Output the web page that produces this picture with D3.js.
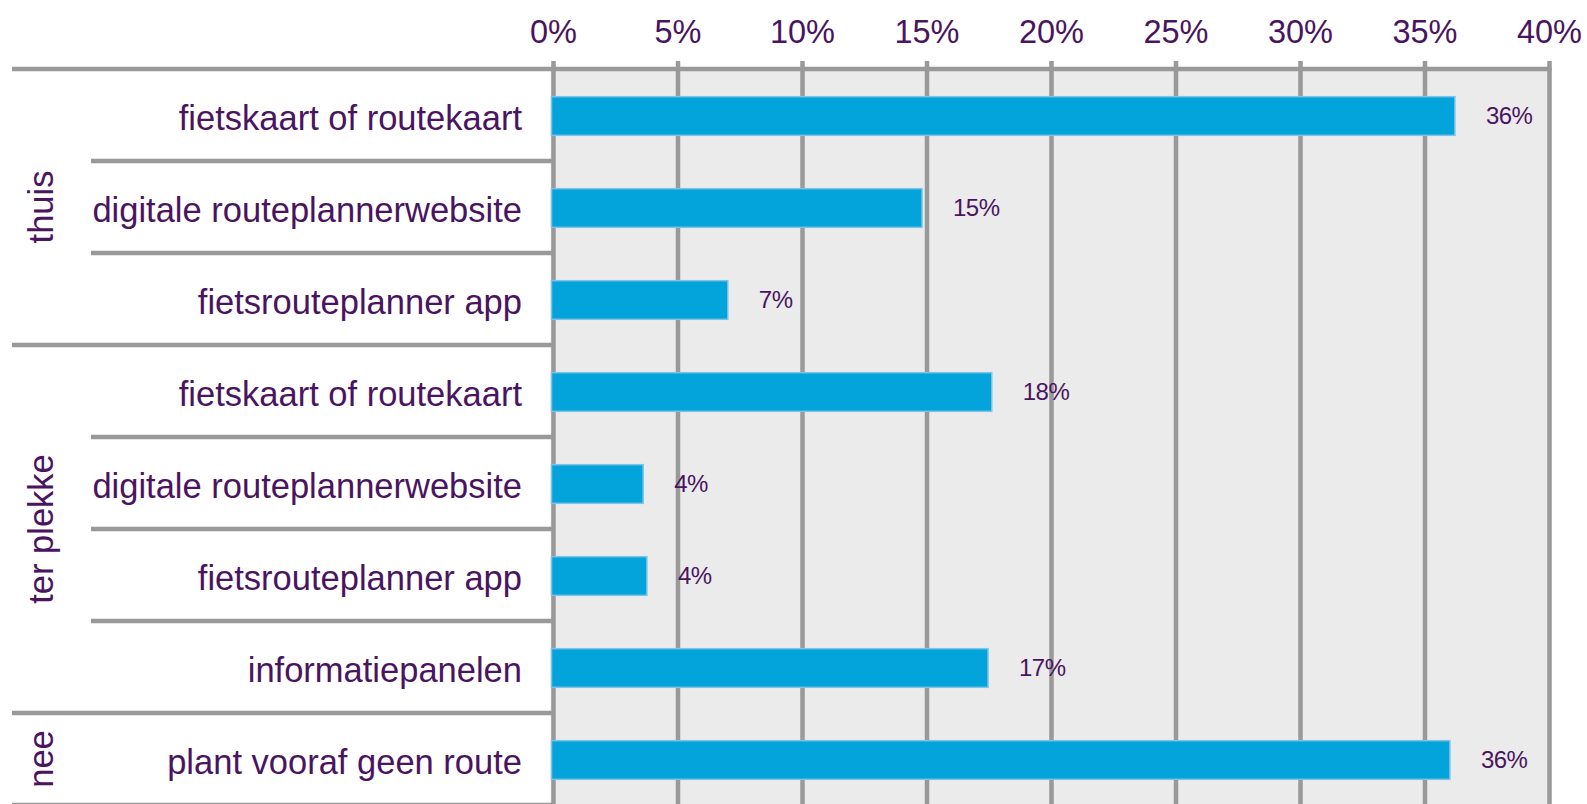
<!DOCTYPE html>
<html><head><meta charset="utf-8">
<script src="https://cdn.jsdelivr.net/npm/d3@7"></script>
<style>html,body{margin:0;padding:0;background:#fff;}svg{display:block;}</style>
</head><body>
<svg id="c" width="1587" height="804"></svg>
<script>
const categories = ["fietskaart of routekaart","digitale routeplannerwebsite","fietsrouteplanner app","fietskaart of routekaart","digitale routeplannerwebsite","fietsrouteplanner app","informatiepanelen","plant vooraf geen route"];
const groupOf = ["thuis","thuis","thuis","ter plekke","ter plekke","ter plekke","ter plekke","nee"];
const groups = ["thuis","ter plekke","nee"];
const values = [36.2, 14.8, 7.0, 17.6, 3.6, 3.75, 17.45, 36.0];
const valueLabels = ["36%","15%","7%","18%","4%","4%","17%","36%"];
const tickValues = [0,5,10,15,20,25,30,35,40];

const svg = d3.select("#c");
const font = "'Liberation Sans', Arial, sans-serif";
const textCol = "#4a1460";
const lineCol = "#999999";
const ids = categories.map((c,i)=>i);

const x = d3.scaleLinear().domain([0,40]).range([553.5,1549.5]);
const rows = d3.scaleBand().domain(ids).range([69,805]).padding(0);
const y = d3.scaleBand().domain(ids).range([69,805]).paddingInner(0.58).paddingOuter(0.29);

// plot background
svg.append("rect").attr("x",x(0)-3).attr("y",rows.range()[0]).attr("width",x(40)-x(0)+3).attr("height",805-69).attr("fill","#ebebeb");

// gridlines
svg.append("g").selectAll("line").data(tickValues).join("line")
  .attr("x1",d=>x(d)).attr("x2",d=>x(d)).attr("y1",61).attr("y2",804)
  .attr("stroke",lineCol).attr("stroke-width",4.5);

// row separators
const bounds = ids.map(i=>rows(i)).concat([rows.range()[1]]);
svg.append("g").selectAll("line").data(bounds).join("line")
  .attr("x1",(d,i)=>{ if(i===0) return 12; const g0 = groupOf[i-1], g1 = groupOf[i]; return (g1===undefined || g0!==g1) ? 12 : 91; })
  .attr("x2",(d,i)=> i===0 ? x(40)+2 : x(0))
  .attr("y1",d=>d).attr("y2",d=>d)
  .attr("stroke",lineCol).attr("stroke-width",4.5);

// axis labels
svg.append("g").selectAll("text").data(tickValues).join("text")
  .attr("x",d=>x(d)).attr("y",43).attr("text-anchor","middle")
  .attr("font-family",font).attr("font-size",32.5).attr("fill",textCol)
  .text(d=>d+"%");

// bars
svg.append("g").selectAll("rect").data(values).join("rect")
  .attr("x",x(0)-2).attr("y",(d,i)=>y(i)+1).attr("width",d=>x(d)-x(0)+2).attr("height",y.bandwidth())
  .attr("fill","#03a3db").attr("stroke","#7cc3e6").attr("stroke-width",1.5);

// value labels
svg.append("g").selectAll("text").data(values).join("text")
  .attr("x",d=>x(d)+31).attr("y",(d,i)=>y(i)+y.bandwidth()/2+1).attr("dy","0.35em")
  .attr("font-family",font).attr("font-size",24).attr("fill",textCol).attr("letter-spacing",-0.5)
  .text((d,i)=>valueLabels[i]);

// category labels
svg.append("g").selectAll("text").data(categories).join("text")
  .attr("x",522).attr("y",(d,i)=>rows(i)+rows.bandwidth()/2+3).attr("dy","0.36em")
  .attr("text-anchor","end").attr("font-family",font).attr("font-size",34.5).attr("fill",textCol)
  .text(d=>d);

// group labels
groups.forEach(g=>{
  const idx = ids.filter(i=>groupOf[i]===g);
  const y0 = rows(idx[0]), y1 = rows(idx[idx.length-1])+rows.bandwidth();
  const cy = (y0+y1)/2;
  svg.append("text").attr("transform",`translate(41,${cy}) rotate(-90)`).attr("dy","0.36em")
    .attr("text-anchor","middle").attr("font-family",font).attr("font-size",34.5).attr("fill",textCol)
    .text(g);
});
</script>
</body></html>
